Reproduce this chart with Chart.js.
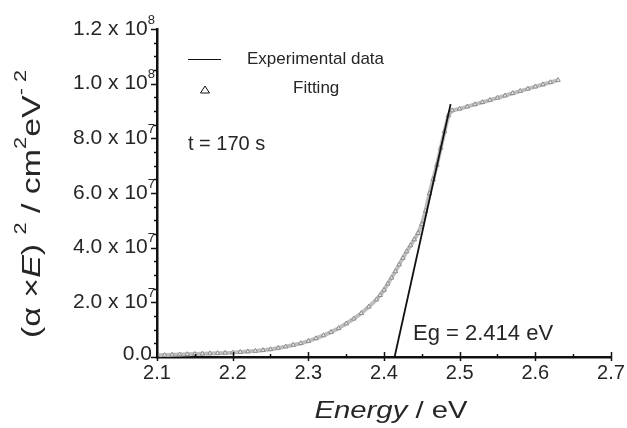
<!DOCTYPE html>
<html>
<head>
<meta charset="utf-8">
<title>Energy gap</title>
<script src="https://cdn.jsdelivr.net/npm/chart.js@4/dist/chart.umd.min.js"></script>
<style>
    html, body { margin: 0; padding: 0; background: #fff; }
    #wrap { width: 627px; height: 428px; position: relative; }
</style>
</head>
<body>
<div id="wrap"><canvas id="gapChart"></canvas></div>
<script>
// Datos (energía en eV, valores en unidades de 1e6 cm^-2 eV^-2)
const energia = [
    2.10, 2.11, 2.12, 2.13, 2.14, 2.15, 2.16, 2.17, 2.18, 2.19,
    2.20, 2.21, 2.22, 2.23, 2.24, 2.25, 2.26, 2.27, 2.28, 2.29,
    2.30, 2.31, 2.32, 2.33, 2.34, 2.35, 2.36, 2.37, 2.38, 2.39,
    2.395, 2.40, 2.405, 2.41, 2.415, 2.42, 2.425, 2.43, 2.435, 2.44,
    2.445, 2.45, 2.455, 2.46, 2.465, 2.47, 2.475, 2.48, 2.485, 2.49,
    2.50, 2.51, 2.52, 2.53, 2.54, 2.55, 2.56, 2.57, 2.58, 2.59,
    2.60, 2.61, 2.62, 2.63
];
const absorcion = [
    0.6, 0.7, 0.8, 0.9, 1.0, 1.1, 1.2, 1.3, 1.4, 1.5,
    1.6, 1.8, 2.0, 2.2, 2.5, 2.8, 3.3, 3.8, 4.4, 5.0,
    5.8, 6.8, 7.9, 9.1, 10.5, 12.2, 14.0, 16.0, 18.4, 21.0,
    22.6, 24.5, 26.8, 29.0, 31.3, 33.8, 36.2, 38.6, 40.8, 43.0,
    45.3, 48.6, 53.5, 59.8, 65.0, 70.3, 76.5, 82.5, 88.3, 90.2,
    90.8, 91.6, 92.4, 93.2, 94.0, 94.8, 95.6, 96.5, 97.3, 98.1,
    98.9, 99.7, 100.5, 101.3
];

// Recta del ajuste lineal (corta el eje en Eg)
const ajusteEnergia = [2.414, 2.488];
const ajusteValor = [0, 92.5];

// Marcas de los ejes
const ticksX = [2.1, 2.2, 2.3, 2.4, 2.5, 2.6, 2.7];
const ticksY = [0, 20, 40, 60, 80, 100, 120];
const etiquetasY = [
    ['0.0', ''], ['2.0 x 10', '7'], ['4.0 x 10', '7'], ['6.0 x 10', '7'],
    ['8.0 x 10', '7'], ['1.0 x 10', '8'], ['1.2 x 10', '8']
];

const ESCALA = 1e6;
const FUENTE = '"Liberation Sans", Arial, sans-serif';
const TEXTO = '#262626';

function toPoints(xs, ys) {
    return xs.map((x, i) => ({ x: x, y: ys[i] * ESCALA }));
}

// Plugin para ejes, leyenda y textos
const decoracion = {
    id: 'decoracion',
    afterDraw(chart) {
        const ctx = chart.ctx;
        const area = chart.chartArea;
        const sx = chart.scales.x;
        const sy = chart.scales.y;

        ctx.save();
        ctx.strokeStyle = '#111';
        ctx.lineWidth = 1.5;

        // Marcas menores y mayores del eje X
        for (let v = 2.1; v <= 2.7001; v += 0.05) {
            const px = Math.round(sx.getPixelForValue(v)) + 0.5;
            const mayor = Math.abs(v * 10 - Math.round(v * 10)) < 1e-6;
            ctx.beginPath();
            ctx.moveTo(px, area.bottom - (mayor ? 5 : 3));
            ctx.lineTo(px, area.bottom + (mayor ? 4 : 0));
            ctx.stroke();
        }
        // Marcas menores y mayores del eje Y
        for (let v = 0; v <= 120.001; v += 5) {
            const py = Math.round(sy.getPixelForValue(v * ESCALA)) + 0.5;
            const mayor = v % 20 === 0;
            ctx.beginPath();
            ctx.moveTo(area.left - (mayor ? 6 : 3), py);
            ctx.lineTo(area.left, py);
            ctx.stroke();
        }

        ctx.fillStyle = TEXTO;
        ctx.textBaseline = 'middle';

        // Etiquetas del eje X
        ctx.font = '20px ' + FUENTE;
        ctx.textAlign = 'center';
        ticksX.forEach(v => {
            ctx.fillText(v.toFixed(1), sx.getPixelForValue(v), area.bottom + 16);
        });

        // Etiquetas del eje Y con exponente
        ticksY.forEach((v, i) => {
            const py = sy.getPixelForValue(v * ESCALA);
            const [base, exp] = etiquetasY[i];
            ctx.textAlign = 'right';
            if (exp) {
                ctx.font = '13px ' + FUENTE;
                ctx.fillText(exp, area.left - 2, py - 9);
                const wExp = ctx.measureText(exp).width;
                ctx.font = '21px ' + FUENTE;
                ctx.fillText(base, area.left - 2 - wExp, py);
            } else {
                ctx.font = '21px ' + FUENTE;
                ctx.fillText(base, area.left - 5, py - 3);
            }
        });

        // Título del eje X
        drawRich(ctx, [
            { t: 'Energy', f: 'italic 24px ' + FUENTE },
            { t: ' / eV', f: '24px ' + FUENTE }
        ], 391, 411, 153);

        // Título del eje Y (girado)
        ctx.save();
        ctx.translate(33, 204);
        ctx.rotate(-Math.PI / 2);
        drawRich(ctx, [
            { t: '(\u03B1 \u00D7', f: '25px ' + FUENTE },
            { t: 'E', f: 'italic 25px ' + FUENTE },
            { t: ') ', f: '25px ' + FUENTE },
            { t: '2', f: '16px ' + FUENTE, dy: -11 },
            { t: ' / cm', f: '25px ' + FUENTE },
            { t: '2', f: '16px ' + FUENTE, dy: -11 },
            { t: 'eV', f: '25px ' + FUENTE },
            { t: '- 2', f: '16px ' + FUENTE, dy: -11 }
        ], 0, 0, 268);
        ctx.restore();

        // Leyenda
        ctx.textAlign = 'left';
        ctx.beginPath();
        ctx.moveTo(188, 59.5);
        ctx.lineTo(221, 59.5);
        ctx.lineWidth = 1.2;
        ctx.stroke();
        ctx.font = '17px ' + FUENTE;
        ctx.fillText('Experimental data', 247, 59);

        ctx.beginPath();
        ctx.moveTo(205, 86);
        ctx.lineTo(209.5, 93);
        ctx.lineTo(200.5, 93);
        ctx.closePath();
        ctx.lineWidth = 1;
        ctx.stroke();
        ctx.fillText('Fitting', 293, 88);

        // Anotaciones
        ctx.font = '20px ' + FUENTE;
        ctx.fillText('t = 170 s', 188, 144);
        ctx.font = '22px ' + FUENTE;
        ctx.fillText('Eg = 2.414 eV', 413, 334);

        ctx.restore();
    }
};

// Dibuja un texto con partes de distinta fuente, centrado en (cx, cy),
// estirado a lo largo para ocupar el ancho indicado
function drawRich(ctx, partes, cx, cy, ancho) {
    let total = 0;
    partes.forEach(p => {
        ctx.font = p.f;
        p.w = ctx.measureText(p.t).width;
        total += p.w;
    });
    const k = ancho ? ancho / total : 1;
    ctx.save();
    ctx.translate(cx, cy);
    ctx.scale(k, 1);
    let x = -total / 2;
    ctx.textAlign = 'left';
    ctx.textBaseline = 'middle';
    partes.forEach(p => {
        ctx.font = p.f;
        ctx.fillText(p.t, x, p.dy || 0);
        x += p.w;
    });
    ctx.restore();
}

// Crear gráfico
const ctx = document.getElementById('gapChart').getContext('2d');
new Chart(ctx, {
    type: 'scatter',
    data: {
        datasets: [{
            label: 'Experimental data',
            data: toPoints(ajusteEnergia, ajusteValor),
            showLine: true,
            borderColor: '#111',
            borderWidth: 1.8,
            pointRadius: 0
        }, {
            label: 'Fitting',
            data: toPoints(energia, absorcion),
            showLine: true,
            borderColor: '#bdbdbd',
            borderWidth: 4,
            pointStyle: 'triangle',
            pointRadius: 2.6,
            pointBorderColor: '#8c8c8c',
            pointBorderWidth: 1,
            pointBackgroundColor: 'rgba(255,255,255,0.6)'
        }]
    },
    plugins: [decoracion],
    options: {
        responsive: true,
        maintainAspectRatio: false,
        animation: false,
        layout: { padding: { top: 29, right: 16, left: 0, bottom: 0 } },
        plugins: {
            legend: { display: false },
            tooltip: { enabled: false }
        },
        scales: {
            x: {
                type: 'linear',
                min: 2.1,
                max: 2.7,
                grid: { display: false, drawTicks: false },
                ticks: { display: false },
                border: { color: '#111', width: 2.5 },
                afterFit: s => { s.height = 71; }
            },
            y: {
                min: 0,
                max: 120 * ESCALA,
                grid: { display: false, drawTicks: false },
                ticks: { display: false },
                border: { color: '#111', width: 2.5 },
                afterFit: s => { s.width = 157; }
            }
        }
    }
});
</script>
</body>
</html>
